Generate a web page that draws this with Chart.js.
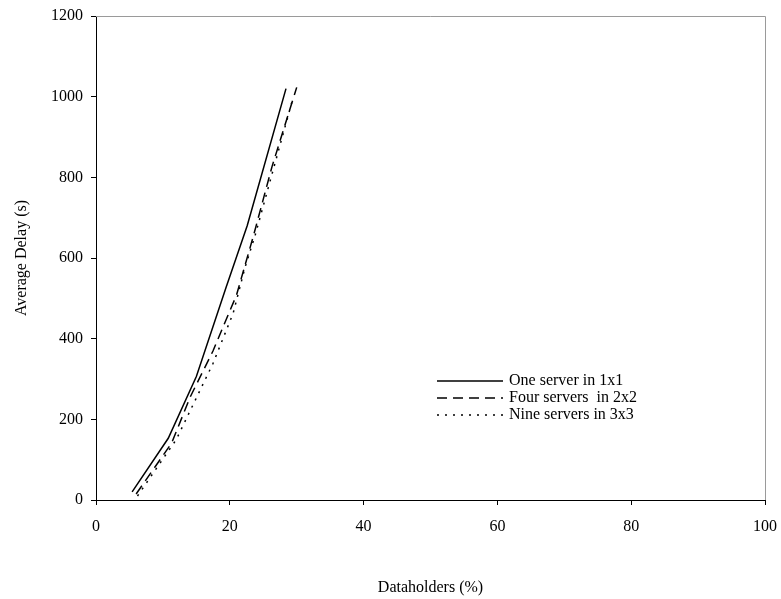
<!DOCTYPE html>
<html>
<head>
<meta charset="utf-8">
<script src="https://cdn.jsdelivr.net/npm/chart.js@4/dist/chart.umd.min.js"></script>
<style>
  html, body { margin: 0; padding: 0; background: #fff; }
  #wrap { width: 781px; height: 599px; position: relative; }
</style>
</head>
<body>
<div id="wrap"><canvas id="c" width="781" height="599"></canvas></div>
<script>
// Series labels
const seriesNames = ['One server in 1x1', 'Four servers  in 2x2', 'Nine servers in 3x3'];

// Dataholders (%) and average delay (s) per series
const oneServerX  = [5.4, 10.8, 15.0, 19.4, 22.6, 28.4];
const oneServerY  = [20, 153, 306, 525, 680, 1020];
const fourServerX = [6.0, 11.3, 14.1, 17.5, 21.0, 23.5, 26.3, 30.0];
const fourServerY = [15, 141, 256, 370, 508, 653, 826, 1023];
const nineServerX = [6.2, 12.0, 17.5, 20.5, 22.3, 23.8, 29.5];
const nineServerY = [10, 150, 339, 463, 578, 657, 1000];

// Axis ticks
const xTicks = [0, 20, 40, 60, 80, 100];
const yTicks = [0, 200, 400, 600, 800, 1000, 1200];

const FONT = 'Liberation Serif';
const toPoints = (xs, ys) => xs.map((x, i) => ({ x: x, y: ys[i] }));

const dashes = [[], [10, 6], [2, 6]];
const series = [
  toPoints(oneServerX, oneServerY),
  toPoints(fourServerX, fourServerY),
  toPoints(nineServerX, nineServerY)
];

// Gray frame on top/right of the plot area
const framePlugin = {
  id: 'frame',
  afterDatasetsDraw(chart) {
    const { ctx, chartArea: a } = chart;
    ctx.save();
    ctx.strokeStyle = '#9a9a9a';
    ctx.lineWidth = 1;
    ctx.beginPath();
    ctx.moveTo(a.left, a.top + 0.5);
    ctx.lineTo(a.right + 0.5, a.top + 0.5);
    ctx.lineTo(a.right + 0.5, a.bottom);
    ctx.stroke();
    ctx.restore();
  }
};

// Legend drawn inside the plot, line sample followed by the label
const legendPlugin = {
  id: 'inlineLegend',
  afterDraw(chart) {
    const { ctx } = chart;
    const x0 = 437, x1 = 503, y0 = 381, step = 17;
    ctx.save();
    chart.data.datasets.forEach((ds, i) => {
      const y = y0 + i * step;
      ctx.strokeStyle = '#000';
      ctx.lineWidth = 1.5;
      ctx.setLineDash(ds.borderDash || []);
      ctx.beginPath();
      ctx.moveTo(x0, y);
      ctx.lineTo(x1, y);
      ctx.stroke();
      ctx.setLineDash([]);
      ctx.fillStyle = '#000';
      ctx.font = '16px "' + FONT + '"';
      ctx.textBaseline = 'middle';
      ctx.textAlign = 'left';
      ctx.fillText(ds.label, x1 + 6, y);
    });
    ctx.restore();
  }
};

new Chart(document.getElementById('c'), {
  type: 'scatter',
  data: {
    datasets: series.map((pts, i) => ({
      label: seriesNames[i],
      data: pts,
      showLine: true,
      borderColor: '#000',
      borderWidth: 1.5,
      borderDash: dashes[i],
      pointRadius: 0,
      pointHoverRadius: 0,
      fill: false,
      tension: 0
    }))
  },
  options: {
    responsive: false,
    animation: false,
    devicePixelRatio: 1,
    layout: { padding: { left: 0, top: 16, right: 16, bottom: 0 } },
    plugins: {
      legend: { display: false },
      tooltip: { enabled: false }
    },
    scales: {
      x: {
        type: 'linear',
        min: 0, max: 100,
        afterBuildTicks(scale) { scale.ticks = xTicks.map(v => ({ value: v })); },
        afterFit(scale) { scale.height = 99; scale.paddingLeft = 0; scale.paddingRight = 0; },
        grid: { drawOnChartArea: false, tickLength: 5, color: '#000', lineWidth: 1 },
        border: { color: '#000', width: 1 },
        ticks: {
          color: '#000', font: { family: FONT, size: 16 }, padding: 12, maxRotation: 0,
          callback: v => String(v)
        },
        title: {
          display: true, text: 'Dataholders (%)', color: '#000',
          font: { family: FONT, size: 16 }, padding: { top: 0, bottom: 2 }
        }
      },
      y: {
        type: 'linear',
        min: 0, max: 1200,
        afterBuildTicks(scale) { scale.ticks = yTicks.map(v => ({ value: v })); },
        afterFit(scale) { scale.width = 96; scale.paddingTop = 0; scale.paddingBottom = 0; },
        grid: { drawOnChartArea: false, tickLength: 5, color: '#000', lineWidth: 1 },
        border: { color: '#000', width: 1 },
        ticks: {
          color: '#000', font: { family: FONT, size: 16 }, padding: 8,
          callback: v => String(v)
        },
        title: {
          display: true, text: 'Average Delay (s)', color: '#000',
          font: { family: FONT, size: 16 }, padding: { top: 12, bottom: 0 }
        }
      }
    }
  },
  plugins: [framePlugin, legendPlugin]
});
</script>
</body>
</html>
